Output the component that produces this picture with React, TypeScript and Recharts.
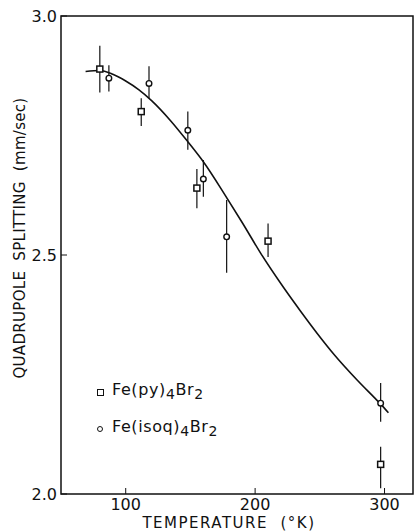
import {
  ComposedChart,
  ErrorBar,
  Line,
  ReferenceArea,
  Scatter,
  XAxis,
  YAxis,
} from "recharts";

// Fe(py)4Br2 — squares
const pyTemps = [80, 112, 155, 210, 297];
const pyValues = [2.889, 2.8, 2.64, 2.529, 2.062];
const pyErrLow = [0.049, 0.03, 0.042, 0.033, 0.05];
const pyErrHigh = [0.049, 0.028, 0.04, 0.037, 0.037];

// Fe(isoq)4Br2 — circles
const isoqTemps = [87, 118, 148, 160, 178, 297];
const isoqValues = [2.87, 2.859, 2.761, 2.659, 2.538, 2.19];
const isoqErrLow = [0.028, 0.031, 0.041, 0.037, 0.075, 0.039];
const isoqErrHigh = [0.027, 0.036, 0.039, 0.04, 0.077, 0.042];

// fitted curve
const curveTemps = [69, 80, 90, 100, 110, 120, 135, 148, 160, 178, 190, 204, 222, 235, 248, 261, 279, 297, 303];
const curveValues = [
  2.884, 2.886, 2.878, 2.864, 2.846, 2.823, 2.78, 2.737, 2.695, 2.62, 2.568, 2.505, 2.432, 2.383, 2.336,
  2.292, 2.238, 2.188, 2.17,
];

const xTicks = [100, 200, 300];
const yTicks = [2.0, 2.5, 3.0];

const pyData = pyTemps.map((t, i) => ({ t, v: pyValues[i], err: [pyErrLow[i], pyErrHigh[i]] }));
const isoqData = isoqTemps.map((t, i) => ({ t, v: isoqValues[i], err: [isoqErrLow[i], isoqErrHigh[i]] }));
const curveData = curveTemps.map((t, i) => ({ t, v: curveValues[i] }));

const ink = "#111";
const font = "'DejaVu Sans', sans-serif";

function SquareShape({ cx = 0, cy = 0 }: { cx?: number; cy?: number }) {
  return <rect x={cx - 3} y={cy - 3} width={6} height={6} fill="#fff" stroke={ink} strokeWidth={1.5} />;
}

function CircleShape({ cx = 0, cy = 0 }: { cx?: number; cy?: number }) {
  return <circle cx={cx} cy={cy} r={2.8} fill="#fff" stroke={ink} strokeWidth={1.4} />;
}

function XTick({ x = 0, y = 0, payload }: { x?: number; y?: number; payload?: { value: number } }) {
  return (
    <g>
      <line x1={x} x2={x} y1={y} y2={y - 6} stroke={ink} strokeWidth={1} />
      <text x={x} y={y + 16} textAnchor="middle" fill={ink} fontSize={16} fontFamily={font}>
        {payload?.value}
      </text>
    </g>
  );
}

function YTick({ x = 0, y = 0, payload }: { x?: number; y?: number; payload?: { value: number } }) {
  return (
    <g>
      <line x1={x} x2={x + 6} y1={y} y2={y} stroke={ink} strokeWidth={1} />
      <text x={x - 4} y={y} dy="0.36em" textAnchor="end" fill={ink} fontSize={16} fontFamily={font}>
        {payload?.value.toFixed(1)}
      </text>
    </g>
  );
}

export default function App() {
  return (
    <div style={{ position: "relative", width: 416, height: 531, background: "#fff", fontFamily: font, color: ink }}>
      <style>{`body{margin:0}`}</style>
      <ComposedChart width={416} height={531} margin={{ top: 16, right: 3, bottom: 0, left: 0 }}>
        <XAxis
          dataKey="t"
          type="number"
          domain={[50, 322]}
          ticks={xTicks}
          tick={XTick}
          tickLine={false}
          axisLine={false}
          tickSize={0}
          tickMargin={0}
          height={37}
          allowDataOverflow
        />
        <YAxis
          dataKey="v"
          type="number"
          domain={[2, 3]}
          ticks={yTicks}
          tick={YTick}
          tickLine={false}
          axisLine={false}
          tickSize={0}
          tickMargin={0}
          width={61}
          allowDataOverflow
        />
        <ReferenceArea x1={50} x2={322} y1={2} y2={3} fill="none" stroke={ink} strokeWidth={1.5} />
        <Line
          data={curveData}
          dataKey="v"
          type="monotone"
          stroke={ink}
          strokeWidth={1.6}
          dot={false}
          isAnimationActive={false}
        />
        <Scatter data={pyData} dataKey="v" shape={SquareShape} isAnimationActive={false}>
          <ErrorBar dataKey="err" direction="y" width={0} stroke={ink} strokeWidth={1.2} />
        </Scatter>
        <Scatter data={isoqData} dataKey="v" shape={CircleShape} isAnimationActive={false}>
          <ErrorBar dataKey="err" direction="y" width={0} stroke={ink} strokeWidth={1.2} />
        </Scatter>
      </ComposedChart>

      {/* y-axis title */}
      <div
        style={{
          position: "absolute",
          left: 20 - 170,
          top: 238 - 10,
          width: 340,
          height: 20,
          lineHeight: "20px",
          textAlign: "center",
          fontSize: 15,
          letterSpacing: 0.3,
          whiteSpace: "pre",
          transform: "rotate(-90deg)",
        }}
      >
        {"QUADRUPOLE  SPLITTING  (mm/sec)"}
      </div>

      {/* x-axis title */}
      <div
        style={{
          position: "absolute",
          left: 229 - 150,
          top: 514,
          width: 300,
          lineHeight: "18px",
          textAlign: "center",
          fontSize: 15,
          letterSpacing: 1.5,
          whiteSpace: "pre",
        }}
      >
        {"TEMPERATURE  (°K)"}
      </div>

      {/* legend */}
      <div style={{ position: "absolute", left: 97, top: 381, fontSize: 16, lineHeight: "18px", letterSpacing: 0.6 }}>
        <div style={{ display: "flex", alignItems: "center" }}>
          <span style={{ width: 5, height: 5, border: `1.5px solid ${ink}`, marginRight: 8 }} />
          <span>
            Fe(py)<sub style={{ fontSize: 14 }}>4</sub>Br<sub style={{ fontSize: 14 }}>2</sub>
          </span>
        </div>
        <div style={{ display: "flex", alignItems: "center", marginTop: 15 }}>
          <span
            style={{ width: 4, height: 4, border: `1.4px solid ${ink}`, borderRadius: "50%", marginRight: 9 }}
          />
          <span>
            Fe(isoq)<sub style={{ fontSize: 14 }}>4</sub>Br<sub style={{ fontSize: 14 }}>2</sub>
          </span>
        </div>
      </div>
    </div>
  );
}
